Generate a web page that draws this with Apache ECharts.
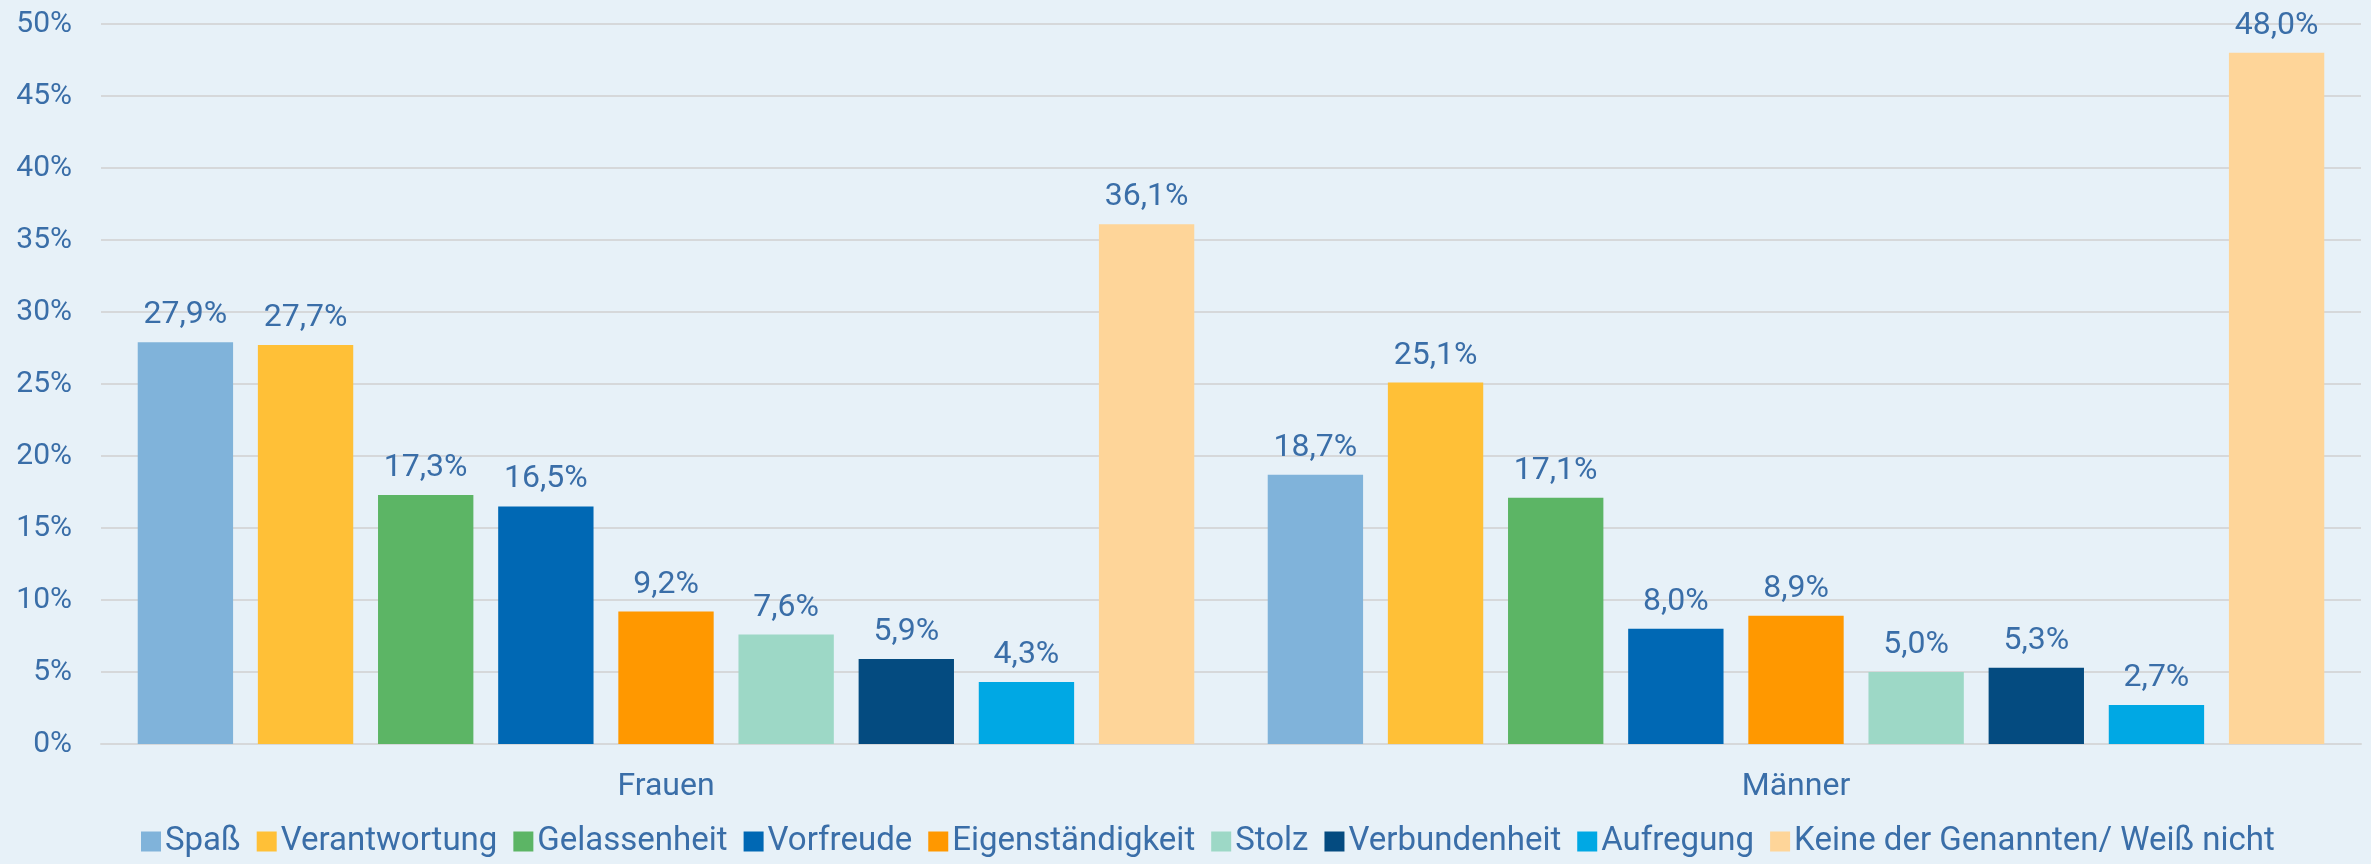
<!DOCTYPE html>
<html>
<head>
<meta charset="utf-8">
<script src="https://cdn.jsdelivr.net/npm/echarts@6/dist/echarts.min.js"></script>
<style>
  html, body { margin: 0; padding: 0; background: #e7f1f8; }
  #chart { width: 2371px; height: 864px; }
</style>
</head>
<body>
<div id="chart"></div>
<script>
const categories = ['Frauen', 'Männer']
const seriesNames = ['Spaß', 'Verantwortung', 'Gelassenheit', 'Vorfreude', 'Eigenständigkeit', 'Stolz', 'Verbundenheit', 'Aufregung', 'Keine der Genannten/ Weiß nicht']
const spass = [27.9, 18.7]
const verantwortung = [27.7, 25.1]
const gelassenheit = [17.3, 17.1]
const vorfreude = [16.5, 8.0]
const eigenstaendigkeit = [9.2, 8.9]
const stolz = [7.6, 5.0]
const verbundenheit = [5.9, 5.3]
const aufregung = [4.3, 2.7]
const keine = [36.1, 48.0]

const values = [spass, verantwortung, gelassenheit, vorfreude, eigenstaendigkeit, stolz, verbundenheit, aufregung, keine]
const colors = ['#80b3da', '#ffc037', '#5cb565', '#0068b4', '#ff9800', '#9dd8c6', '#044b80', '#00a8e4', '#fed599']

const TEXT = '#3a6ea8'
const FONT = 'Roboto'

const chart = echarts.init(document.getElementById('chart'))

chart.setOption({
  backgroundColor: '#e7f1f8',
  animation: false,
  textStyle: { fontFamily: FONT },
  grid: { left: 101, right: 10, top: 24, bottom: 120 },
  legend: {
    bottom: 1,
    left: 136,
    itemWidth: 20,
    itemHeight: 20,
    itemGap: 16,
    icon: 'rect',
    textStyle: { color: TEXT, fontSize: 33, fontFamily: FONT, padding: [0, 0, 0, -1] },
    data: seriesNames,
  },
  xAxis: {
    type: 'category',
    data: categories,
    axisLine: { lineStyle: { color: '#d6d8da', width: 2 } },
    axisTick: { show: false },
    axisLabel: { color: TEXT, fontSize: 32, margin: 27, fontFamily: FONT },
  },
  yAxis: {
    type: 'value',
    min: 0,
    max: 50,
    interval: 5,
    axisLine: { show: false },
    axisTick: { show: false },
    splitLine: { lineStyle: { color: '#d6d8da', width: 2 } },
    axisLabel: { color: TEXT, fontSize: 30, margin: 29, fontFamily: FONT, formatter: '{value}%' },
  },
  series: seriesNames.map((name, i) => ({
    name,
    type: 'bar',
    data: values[i],
    barGap: '26%',
    barCategoryGap: '6.5%',
    itemStyle: { color: colors[i] },
    label: {
      show: true,
      position: 'top',
      distance: 11,
      color: TEXT,
      fontSize: 32,
      fontFamily: FONT,
      formatter: (p) => p.value.toFixed(1).replace('.', ',') + '%',
    },
  })),
})
</script>
</body>
</html>
